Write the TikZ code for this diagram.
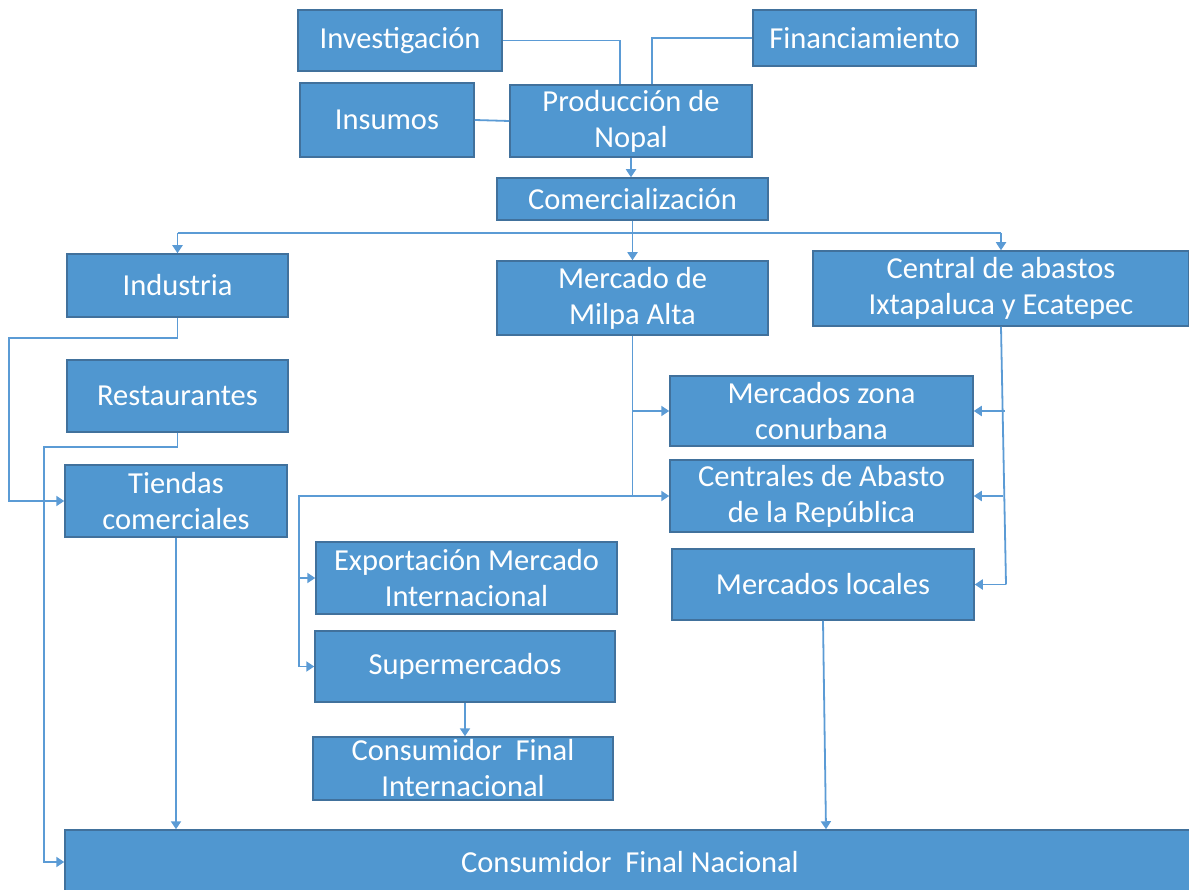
\documentclass[tikz,border=0pt]{standalone}
\usepackage{fontspec}
\setmainfont{Carlito}
\usetikzlibrary{arrows.meta}
\definecolor{boxfill}{RGB}{80,151,208}
\definecolor{boxdraw}{RGB}{65,113,156}
\definecolor{wirec}{RGB}{91,155,213}
\begin{document}
\begin{tikzpicture}[x=1pt,y=-1pt,
 box/.style={draw=boxdraw, fill=boxfill, line width=1.5pt, text=white, align=center,
   font=\fontsize{30.5}{36}\selectfont, inner sep=0pt},
 wire/.style={draw=wirec, line width=1.8pt},
 arr/.style={wire, -{Triangle[width=10pt,length=8pt]}}]
\useasboundingbox (0,0) rectangle (1189,890);

\node[box, minimum width=204pt, minimum height=61pt] (inv) at (400,40.5) {Investigación};
\node[box, minimum width=223pt, minimum height=56pt] (fin) at (864.5,38) {Financiamiento};
\node[box, minimum width=174pt, minimum height=74pt] (ins) at (387,120) {Insumos};
\node[box, minimum width=242pt, minimum height=72pt] (prod) at (631,121) {Producción de\\Nopal};
\node[box, minimum width=271pt, minimum height=42pt] (com) at (632.5,199) {Comercialización};
\node[box, minimum width=221pt, minimum height=63pt] (ind) at (177.5,285.5) {Industria};
\node[box, minimum width=271pt, minimum height=74pt] (mil) at (632.5,298) {Mercado de\\Milpa Alta};
\node[box, minimum width=376pt, minimum height=75pt] (cen) at (1001,288.5) {Central de abastos\\Ixtapaluca y Ecatepec};
\node[box, minimum width=221pt, minimum height=72pt] (res) at (177.5,396) {Restaurantes};
\node[box, minimum width=303pt, minimum height=70pt] (mz) at (821.5,411) {Mercados zona\\conurbana};
\node[box, minimum width=222pt, minimum height=72pt] (tie) at (176,501) {Tiendas\\comerciales};
\node[box, minimum width=303pt, minimum height=72pt] (ca) at (821.5,496) {Centrales de Abasto\\de la República};
\node[box, minimum width=301pt, minimum height=72pt] (exp) at (466.5,578) {Exportación Mercado\\Internacional};
\node[box, minimum width=302pt, minimum height=71pt] (ml) at (823,584.5) {Mercados locales};
\node[box, minimum width=300pt, minimum height=71pt] (sup) at (465,666.5) {Supermercados};
\node[box, minimum width=300pt, minimum height=63pt] (cfi) at (463,768.5) {Consumidor~ Final\\Internacional};
\node[box, minimum width=1130pt, minimum height=64pt] (cfn) at (630,862) {Consumidor~ Final Nacional};

% inputs to production
\draw[wire] (inv.east) -| ([xshift=-11pt]prod.north);
\draw[wire] (fin.west) -| ([xshift=21pt]prod.north);
\draw[wire] (ins.east) -- (prod.west);
\draw[arr] (prod.south) -- (prod.south |- com.north);

% distribution bus
\coordinate (bus) at (632.5,233);
\draw[wire] (com.south) -- (bus);
\draw[wire] (ind.north |- bus) -- (cen.north |- bus);
\draw[arr] (ind.north |- bus) -- (ind.north);
\draw[arr] (bus) -- (mil.north);
\draw[arr] (cen.north |- bus) -- (cen.north);

% left column
\draw[arr] (ind.south) -- ++(0,20) -| ([xshift=-55pt]tie.west) -- (tie.west);
\draw[arr] (res.south) -- ++(0,14) -| ([xshift=-20pt]cfn.west) -- (cfn.west);
\draw[arr] (tie.south) -- (tie.south |- cfn.north);

% Milpa Alta
\coordinate (lb) at (299,496);
\draw[wire] (mil.south) -- (mil.south |- ca.west);
\draw[arr] (mil.south |- mz.west) -- (mz.west);
\draw[arr] (mil.south |- ca.west) -- (ca.west);
\draw[wire] (mil.south |- ca.west) -- (lb) -- (lb |- sup.west);
\draw[arr] (lb |- exp.west) -- (exp.west);
\draw[arr] (lb |- sup.west) -- (sup.west);
\draw[arr] (sup.south) -- (sup.south |- cfi.north);

% Central de abastos
\draw[wire] (cen.south) -- ([xshift=5pt]cen.south |- ml.east);
\draw[arr] ([xshift=5pt]cen.south |- ml.east) -- (ml.east);
\draw[arr] ([xshift=4pt]cen.south |- mz.east) -- (mz.east);
\draw[arr] ([xshift=2pt]cen.south |- ca.east) -- (ca.east);
\draw[arr] (ml.south) -- ([xshift=3pt]ml.south |- cfn.north);
\end{tikzpicture}
\end{document}
